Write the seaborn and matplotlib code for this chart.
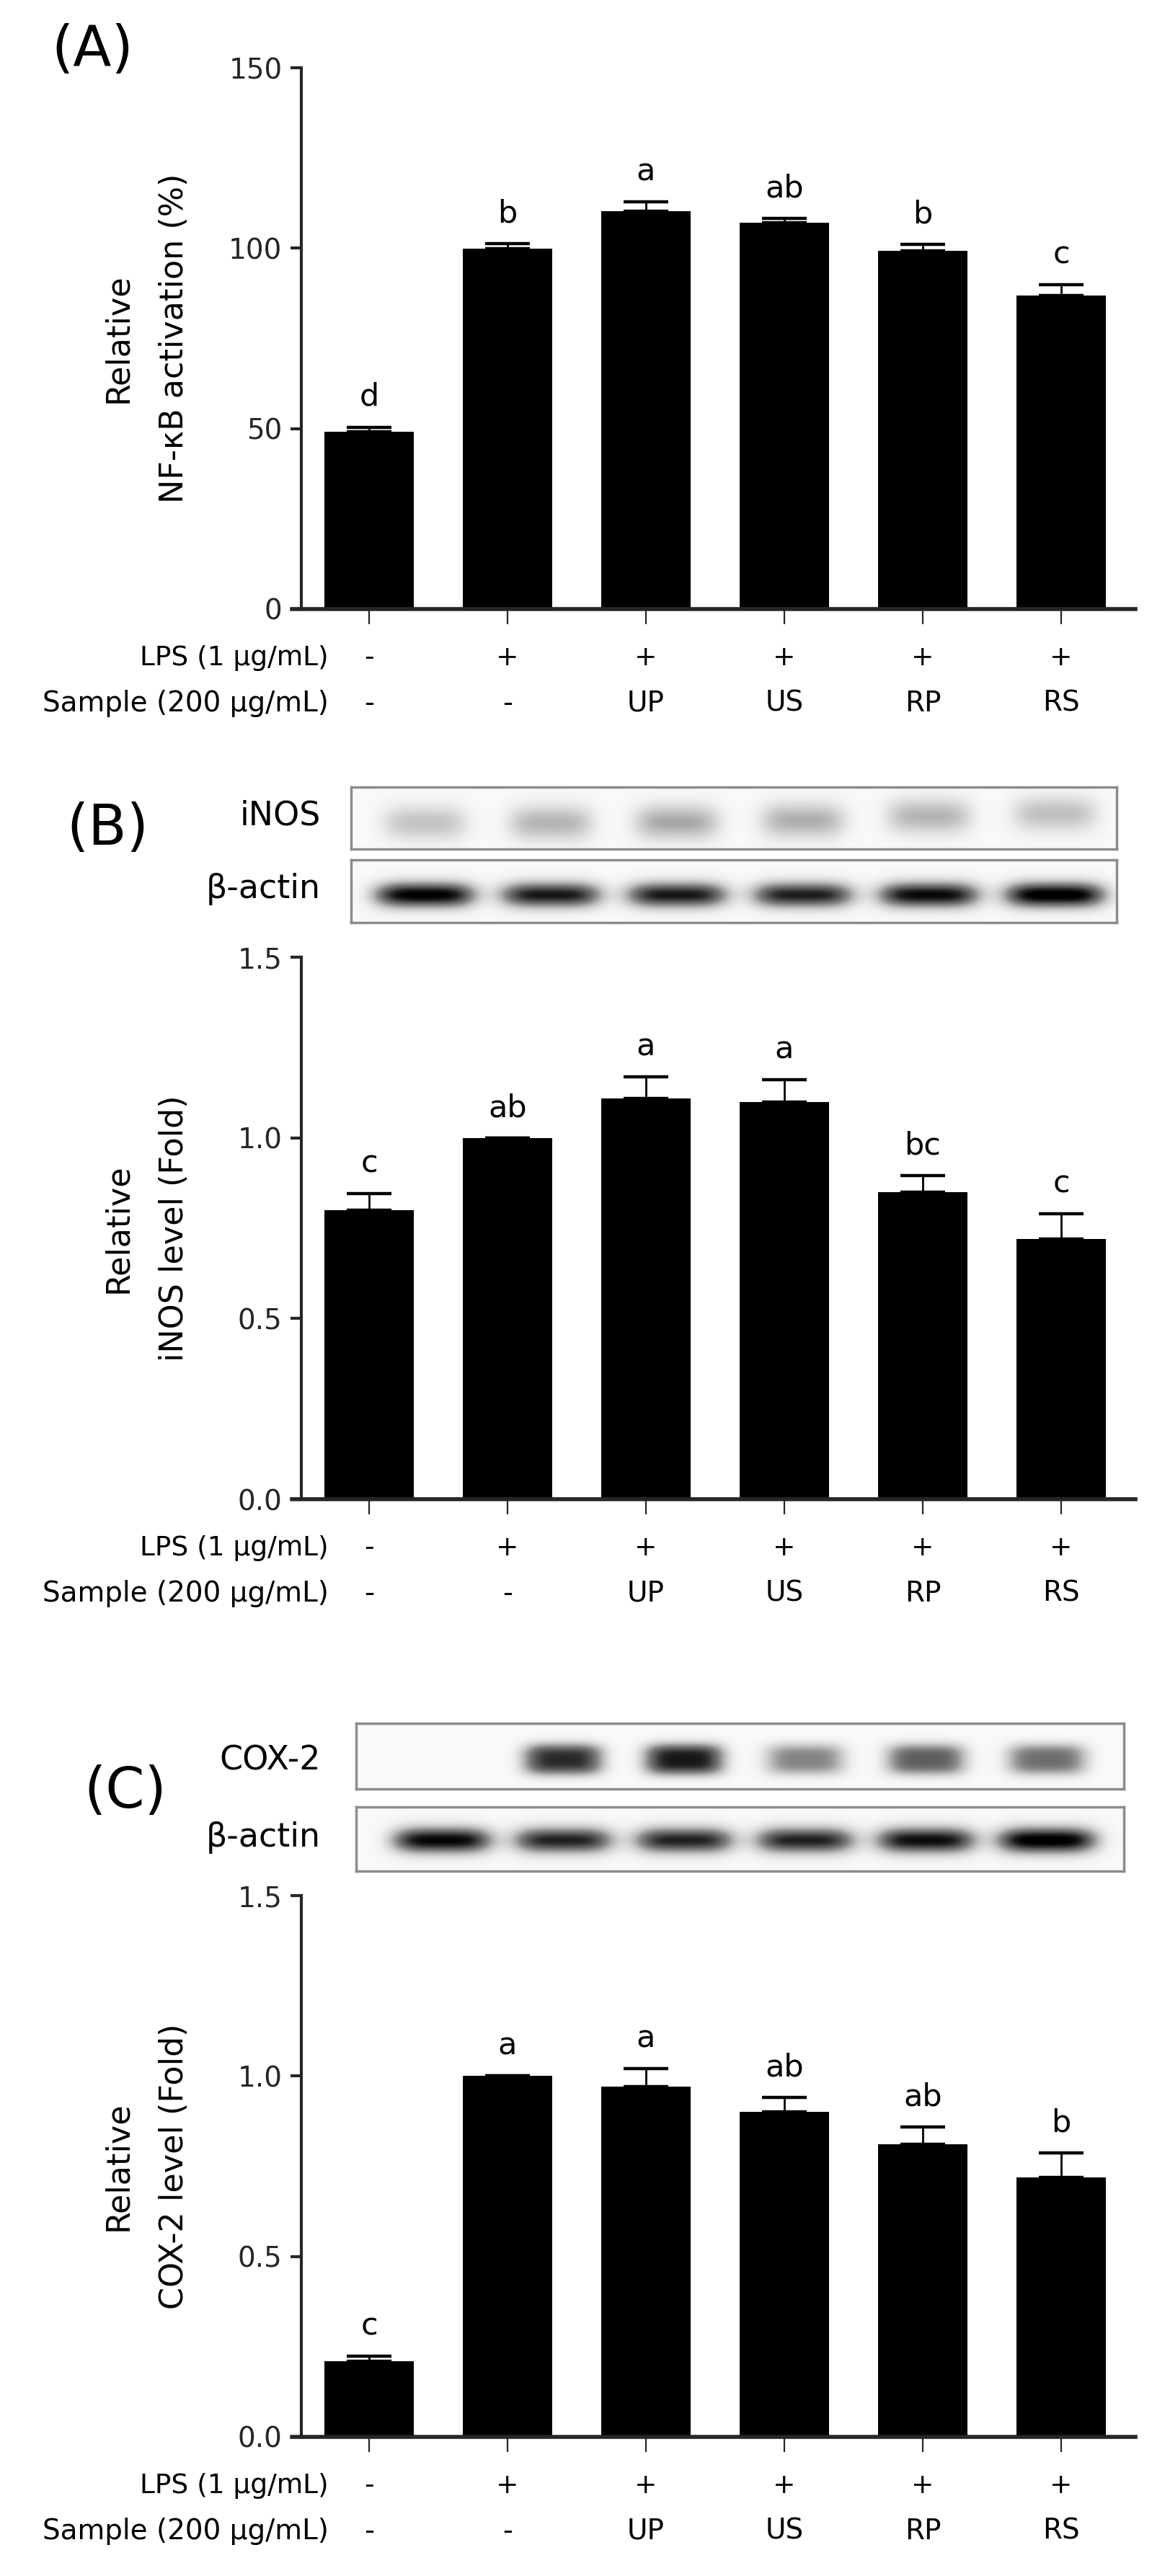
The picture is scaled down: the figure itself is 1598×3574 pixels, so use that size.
import numpy as np
import pandas as pd
import matplotlib
matplotlib.use("Agg")
import matplotlib.pyplot as plt
import seaborn as sns

# ---------------- data ----------------
groups = ["Control", "LPS", "UP", "US", "RP", "RS"]
lps_row = ["-", "+", "+", "+", "+", "+"]
sample_row = ["-", "-", "UP", "US", "RP", "RS"]

nfkb_mean = [49.2, 99.8, 110.3, 107.1, 99.2, 86.8]
nfkb_err = [1.2, 1.5, 2.6, 1.2, 1.8, 3.0]
nfkb_sig = ["d", "b", "a", "ab", "b", "c"]

inos_mean = [0.80, 1.00, 1.11, 1.10, 0.85, 0.72]
inos_err = [0.045, 0.0, 0.058, 0.060, 0.046, 0.070]
inos_sig = ["c", "ab", "a", "a", "bc", "c"]

cox2_mean = [0.21, 1.00, 0.97, 0.90, 0.81, 0.72]
cox2_err = [0.014, 0.0, 0.050, 0.040, 0.048, 0.066]
cox2_sig = ["c", "a", "a", "ab", "ab", "b"]

# blot band darkness (0 = none, 1 = black)
inos_band = [0.30, 0.36, 0.40, 0.38, 0.36, 0.32]
actin_b_band = [0.97, 0.88, 0.88, 0.86, 0.93, 1.00]
cox2_band = [0.00, 0.82, 0.88, 0.52, 0.66, 0.60]
actin_c_band = [0.95, 0.85, 0.85, 0.85, 0.92, 1.00]

# ---------------- style ----------------
sns.set_style("ticks")
plt.rcParams["font.family"] = ["DejaVu Sans"]
plt.rcParams["text.color"] = "black"

W, H = 1598, 3574
fig = plt.figure(figsize=(W / 100, H / 100), dpi=100)


def px_axes(x0, y0, x1, y1):
    return fig.add_axes([x0 / W, 1 - y1 / H, (x1 - x0) / W, (y1 - y0) / H])


X_LIM = ((405 - 512) / 192, (1575 - 512) / 192)


def bar_panel(top_px, zero_px, means, errs, sigs, ymax, yticks, fmt, ylab2):
    ax = px_axes(405, top_px, 1575, zero_px)
    df = pd.DataFrame({"group": groups, "value": means})
    sns.barplot(data=df, x="group", y="value", order=groups, color="black",
                saturation=1, width=0.65, errorbar=None, linewidth=0, ax=ax)
    x = np.arange(len(groups))
    ax.errorbar(x, means, yerr=[np.zeros(len(errs)), errs], fmt="none",
                ecolor="black", elinewidth=2, capsize=22, capthick=3.2, zorder=4)
    ax.set_xlim(*X_LIM)
    ax.set_ylim(0, ymax)
    ax.set_yticks(yticks)
    ax.set_yticklabels([fmt.format(v) for v in yticks])
    ax.set_xticks(x)
    ax.set_xticklabels([])
    ax.set_xlabel("")
    ax.set_ylabel("")
    for s in ["top", "right"]:
        ax.spines[s].set_visible(False)
    ax.spines["left"].set_position(("data", -0.49))
    ax.spines["left"].set_linewidth(3)
    ax.spines["bottom"].set_linewidth(4)
    ax.tick_params(axis="y", length=11, width=3, labelsize=28, pad=8)
    ax.tick_params(axis="x", length=15, width=1.6)
    # significance letters
    for i, (m, e, s) in enumerate(zip(means, errs, sigs)):
        ax.annotate(s, xy=(i, m + e), xytext=(0, 30), textcoords="offset points",
                    ha="center", va="center", fontsize=31)
    # treatment rows
    for i in range(len(groups)):
        ax.annotate(lps_row[i], xy=(i, 0), xytext=(0, -49), textcoords="offset points",
                    ha="center", va="center", fontsize=27)
        ax.annotate(sample_row[i], xy=(i, 0), xytext=(0, -94), textcoords="offset points",
                    ha="center", va="center", fontsize=28)
    fig.text(456 / W, 1 - (zero_px + 68) / H, "LPS (1 µg/mL)", ha="right",
             va="center", fontsize=27)
    fig.text(456 / W, 1 - (zero_px + 131) / H, "Sample (200 µg/mL)", ha="right",
             va="center", fontsize=28)
    yc = (top_px + zero_px) / 2
    fig.text(164 / W, 1 - yc / H, "Relative", rotation=90, ha="center",
             va="center", fontsize=32)
    fig.text(241 / W, 1 - yc / H, ylab2, rotation=90, ha="center",
             va="center", fontsize=32)
    return ax


def blot(box, intens, xlim, lane_w, yc, sy, label, label_y, ypow=2.0):
    x0, y0, x1, y1 = box
    ax = px_axes(x0, y0, x1, y1)
    xs = np.linspace(xlim[0], xlim[1], 700)
    ys = np.linspace(0, 1, 140)
    X, Y = np.meshgrid(xs, ys)
    D = np.full_like(X, 0.045)
    for i, v in enumerate(intens):
        hx = np.exp(-np.abs((X - i) / (lane_w / 2)) ** 4)
        hy = np.exp(-0.5 * np.abs((Y - yc[i]) / sy) ** ypow)
        D += v * hx * hy
    ax.imshow(np.clip(D, 0, 1), cmap="Greys", vmin=0, vmax=1,
              extent=(xlim[0], xlim[1], 1, 0), aspect="auto",
              interpolation="bilinear")
    ax.set_xlim(*xlim)
    ax.set_ylim(1, 0)
    ax.set_xticks([])
    ax.set_yticks([])
    for s in ax.spines.values():
        s.set_color("#8c8c8c")
        s.set_linewidth(2.5)
    fig.text(445 / W, 1 - label_y / H, label, ha="right", va="center", fontsize=33)


# ---------------- Panel A ----------------
fig.text(128 / W, 1 - 70 / H, "(A)", ha="center", va="center", fontsize=56)
bar_panel(94, 845, nfkb_mean, nfkb_err, nfkb_sig, 150, [0, 50, 100, 150], "{:.0f}",
          "NF-κB activation (%)")

# ---------------- Panel B ----------------
fig.text(149 / W, 1 - 1150 / H, "(B)", ha="center", va="center", fontsize=56)
xl_b = ((487 - 589) / 175, (1549 - 589) / 175)
blot((487, 1092, 1549, 1178), inos_band, xl_b, 0.70,
     [0.58, 0.58, 0.57, 0.54, 0.47, 0.43], 0.22, "iNOS", 1132)
blot((487, 1193, 1549, 1280), actin_b_band, xl_b, 0.82,
     [0.56] * 6, 0.15, "β-actin", 1233)
bar_panel(1328, 2080, inos_mean, inos_err, inos_sig, 1.5, [0, 0.5, 1.0, 1.5], "{:.1f}",
          "iNOS level (Fold)")

# ---------------- Panel C ----------------
fig.text(174 / W, 1 - 2486 / H, "(C)", ha="center", va="center", fontsize=56)
xl_c = ((494 - 613) / 168, (1559 - 613) / 168)
blot((494, 2391, 1559, 2482), cox2_band, xl_c, 0.68,
     [0.55] * 6, 0.20, "COX-2", 2443, ypow=3.0)
blot((494, 2507, 1559, 2596), actin_c_band, xl_c, 0.84,
     [0.52] * 6, 0.15, "β-actin", 2549)
bar_panel(2630, 3381, cox2_mean, cox2_err, cox2_sig, 1.5, [0, 0.5, 1.0, 1.5], "{:.1f}",
          "COX-2 level (Fold)")

fig.savefig("out.png", dpi=100, facecolor="white")
